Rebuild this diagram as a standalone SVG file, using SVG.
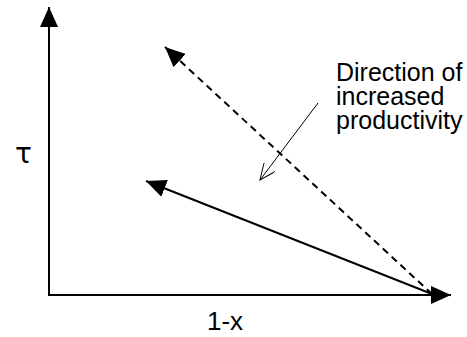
<svg xmlns="http://www.w3.org/2000/svg" width="467" height="337" viewBox="0 0 467 337">
<style>
.ax{stroke:#000;stroke-width:2;fill:none}
.lbl{font-family:"Liberation Sans",Arial,sans-serif;font-size:25px;fill:#000}
</style>
<defs>
<marker id="tri" markerUnits="userSpaceOnUse" markerWidth="22" markerHeight="20" refX="20" refY="9" orient="auto" viewBox="0 0 22 20">
<path d="M0,0 L20,9 L0,18 z" fill="#000"/>
</marker>
<marker id="open" markerUnits="userSpaceOnUse" markerWidth="18" markerHeight="16" refX="16" refY="7" orient="auto" viewBox="0 0 18 16">
<path d="M0,0 L16,7 L0,14" fill="none" stroke="#000" stroke-width="1"/>
</marker>
</defs>
<g id="connectors">
<line class="ax" x1="49" y1="295" x2="49" y2="7" marker-end="url(#tri)"/>
<line class="ax" x1="48" y1="295" x2="451" y2="295" marker-end="url(#tri)"/>
<line class="ax" x1="432" y1="294" x2="165" y2="47" stroke-dasharray="7,5" marker-end="url(#tri)"/>
<line class="ax" x1="432" y1="294" x2="146" y2="181" marker-end="url(#tri)"/>
<line x1="318" y1="103" x2="260" y2="180" stroke="#000" stroke-width="1" marker-end="url(#open)"/>
</g>
<g id="tau"><text x="15" y="163" style="font-family:'DejaVu Sans',sans-serif;font-size:28px">τ</text></g>
<g id="xlabel"><text class="lbl" x="207" y="330" style="font-size:26px">1-x</text></g>
<g id="note">
<text class="lbl" x="336" y="81">Direction of</text>
<text class="lbl" x="336" y="105">increased</text>
<text class="lbl" x="336" y="129">productivity</text>
</g>
</svg>
